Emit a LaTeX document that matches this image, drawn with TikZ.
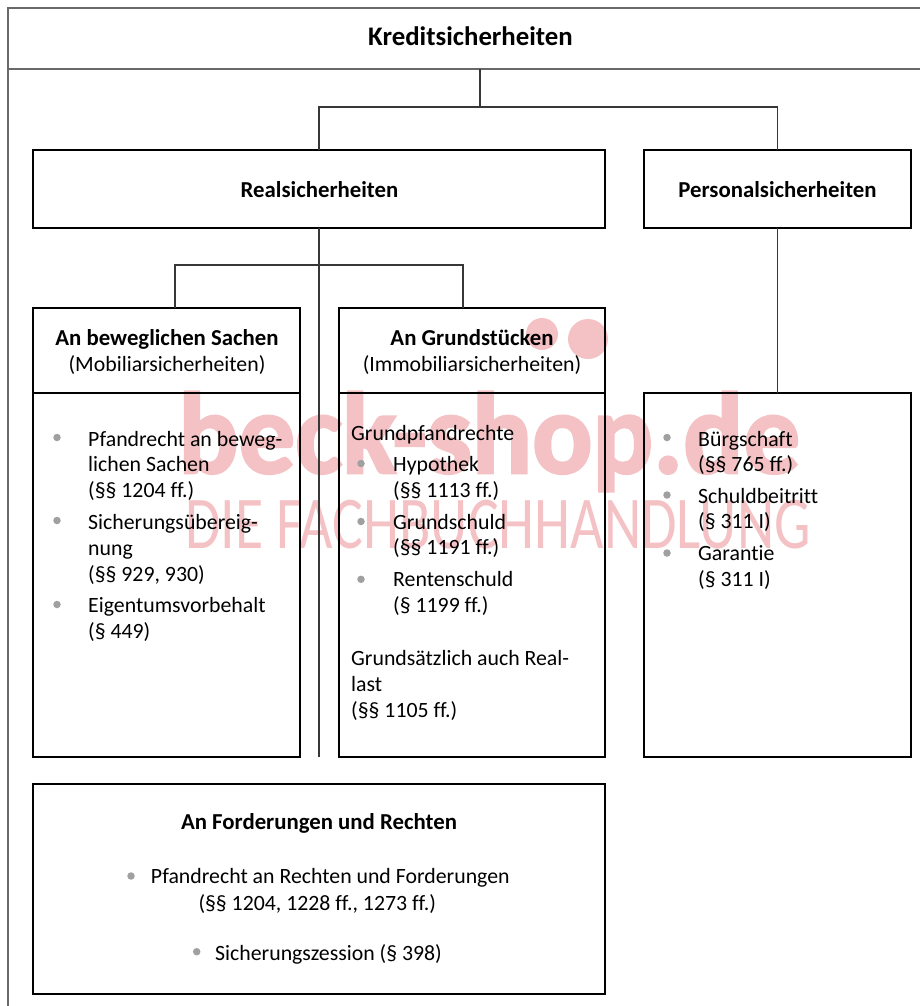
\documentclass[tikz,border=0pt]{standalone}
\usepackage{fontspec}
\setmainfont{Carlito}[Ligatures=NoCommon]
\newfontfamily\wmfont{Carlito}[BoldFeatures={FakeBold=2.2}]
\definecolor{wm}{RGB}{244,194,196}
\definecolor{bulc}{RGB}{160,160,160}
\definecolor{framec}{RGB}{105,105,105}
\definecolor{conc}{RGB}{55,55,55}
\newcommand\bodyf{\fontsize{21.8}{25.7}\selectfont}
\newcommand\headf{\bfseries\fontsize{22.8}{26}\selectfont}
\newcommand\titlef{\bfseries\fontsize{26.8}{30}\selectfont}
\begin{document}
\begin{tikzpicture}[x=1pt,y=-1pt,
  box/.style={draw=black,line width=2.3pt,inner sep=0pt,outer sep=0pt},
  con/.style={draw=conc,line width=1.4pt},
  framel/.style={draw=framec,line width=1.6pt},
  tx/.style={anchor=base west,inner sep=0pt,font=\bodyf},
  hd/.style={anchor=base,inner sep=0pt,font=\headf},
  sub/.style={anchor=base,inner sep=0pt,font=\bodyf},
  bul/.style={circle,fill=bulc,minimum size=7.5pt,inner sep=0pt}]
\useasboundingbox (0,0) rectangle (920,1006);
\clip (0,0) rectangle (920,1006);
% watermark
\node[anchor=base west,inner sep=0pt,text=wm,font=\wmfont\bfseries\fontsize{116}{120}\selectfont] (wm1) at (178,473) {\scalebox{0.97}[1]{beck-shop.de}};
\fill[wm] (542,334) circle (16);
\fill[wm] (588,339) circle (20);
\node[anchor=base west,inner sep=0pt,text=wm,font=\fontsize{74.5}{80}\selectfont] (wm2) at (185,548) {\scalebox{0.775}[1]{DIE FACHBUCHHANDLUNG}};
% outer frame
\draw[framel] (8,1030) |- (940,8);
\draw[framel] (8,69) -- (940,69);
\node[anchor=base,inner sep=0pt,font=\titlef] (title) at (470.5,46) {Kreditsicherheiten};
\coordinate (tb) at (480,69);
% boxes
\node[box,minimum width=572,minimum height=78] (real) at (319,189) {};
\node[box,minimum width=267,minimum height=78] (pers) at (777.5,189) {};
\node[box,minimum width=267,minimum height=85] (mobh) at (166.5,350.5) {};
\node[box,minimum width=267,minimum height=364] (mobb) at (166.5,575) {};
\node[box,minimum width=266,minimum height=85] (immh) at (472,350.5) {};
\node[box,minimum width=266,minimum height=364] (immb) at (472,575) {};
\node[box,minimum width=267,minimum height=364] (persb) at (777.5,575) {};
\node[box,minimum width=572,minimum height=210] (ford) at (319,889) {};
% connectors
\draw[con] (tb) -- (480,107) coordinate (j1);
\draw[con] (real.north) |- (j1) -| (pers.north);
\coordinate (rend) at (real.south |- mobb.south);
\draw[con] (real.south) -- (rend);
\coordinate (j2) at (319,265);
\draw[con] ([xshift=8.5pt]mobh.north) |- (j2) -| ([xshift=-9pt]immh.north);
\draw[con] (pers.south) -- (persb.north);
% headings
\node[hd] (realt) at (319.5,197) {Realsicherheiten};
\node[hd] (perst) at (777.5,197) {Personalsicherheiten};
\node[hd] (mobt) at (167,345) {An beweglichen Sachen};
\node[sub] (mobs) at (167,371) {(Mobiliarsicherheiten)};
\node[hd] (immt) at (472,345) {An Grundstücken};
\node[sub] (imms) at (472,371) {(Immobiliarsicherheiten)};
\node[hd] (fordt) at (319,829.5) {An Forderungen und Rechten};
% left list
\node[bul] (bm1) at (57,437.5) {};
\node[tx] (m1) at (88,446) {Pfandrecht an beweg-};
\node[tx] (m2) at (88,471.7) {lichen Sachen};
\node[tx] (m3) at (88,497.4) {(§§ 1204 ff.)};
\node[bul] (bm2) at (57,520.5) {};
\node[tx] (m4) at (88,529.6) {Sicherungsübereig-};
\node[tx] (m5) at (88,555.3) {nung};
\node[tx] (m6) at (88,581) {(§§ 929, 930)};
\node[bul] (bm3) at (57,604.5) {};
\node[tx] (m7) at (88,612.5) {Eigentumsvorbehalt};
\node[tx] (m8) at (88,638.2) {(§ 449)};
% middle list
\node[tx] (g0) at (351,440) {Grundpfandrechte};
\node[bul] (bg1) at (361,463.5) {};
\node[tx] (g1) at (393,471.7) {Hypothek};
\node[tx] (g2) at (393,497.4) {(§§ 1113 ff.)};
\node[bul] (bg2) at (361,521.5) {};
\node[tx] (g3) at (393,529.2) {Grundschuld};
\node[tx] (g4) at (393,554.9) {(§§ 1191 ff.)};
\node[bul] (bg3) at (361,579.3) {};
\node[tx] (g5) at (393,586.7) {Rentenschuld};
\node[tx] (g6) at (393,612.4) {(§ 1199 ff.)};
\node[tx] (g7) at (351,665.7) {Grundsätzlich auch Real-};
\node[tx] (g8) at (351,691.4) {last};
\node[tx] (g9) at (351,717.1) {(§§ 1105 ff.)};
% right list
\node[bul] (bp1) at (667,437.5) {};
\node[tx] (p1) at (698,446) {Bürgschaft};
\node[tx] (p2) at (698,471.7) {(§§ 765 ff.)};
\node[bul] (bp2) at (667,495) {};
\node[tx] (p3) at (698,503.2) {Schuldbeitritt};
\node[tx] (p4) at (698,528.9) {(§ 311 I)};
\node[bul] (bp3) at (667,553) {};
\node[tx] (p5) at (698,560.4) {Garantie};
\node[tx] (p6) at (698,586.1) {(§ 311 I)};
% bottom list
\node[bul] (bf1) at (131,876) {};
\node[tx] (f1) at (150.7,883.3) {Pfandrecht an Rechten und Forderungen};
\node[tx] (f2) at (198.3,910) {(§§ 1204, 1228 ff., 1273 ff.)};
\node[bul] (bf2) at (196.7,951.7) {};
\node[tx] (f3) at (215,960) {Sicherungszession (§ 398)};
\end{tikzpicture}
\end{document}
